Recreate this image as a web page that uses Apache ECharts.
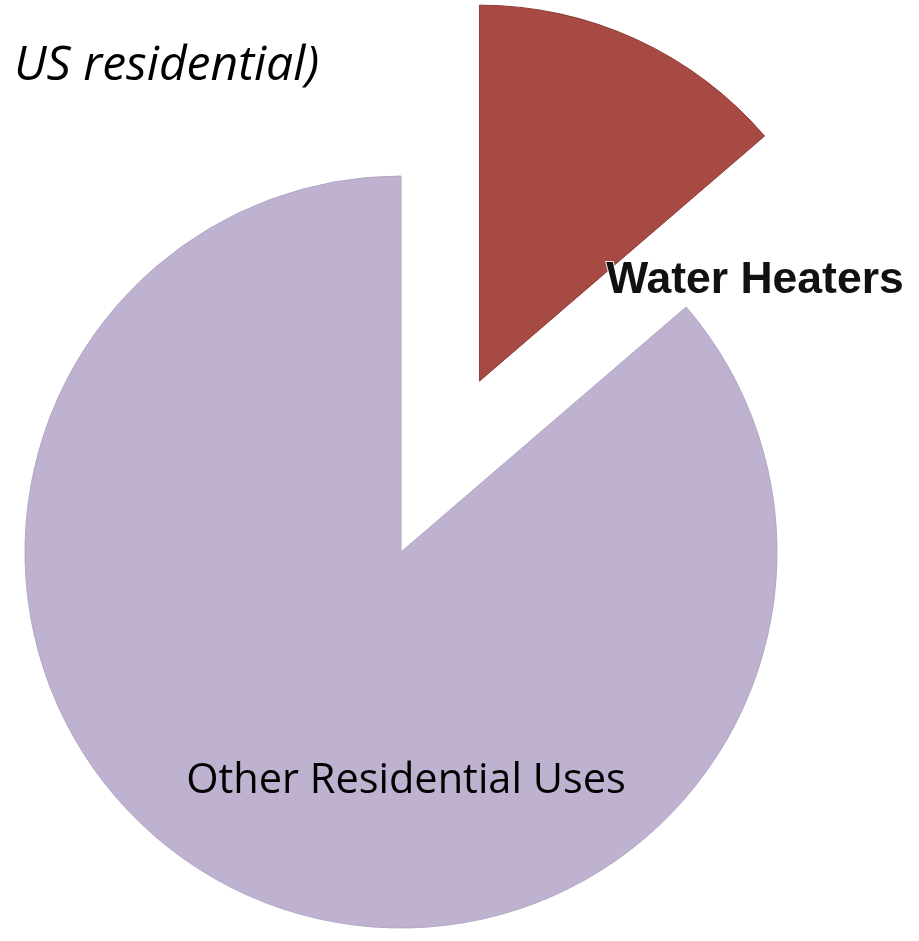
<!DOCTYPE html>
<html>
<head>
<meta charset="utf-8">
<script src="https://cdn.jsdelivr.net/npm/echarts@6/dist/echarts.min.js"></script>
<style>
  html, body { margin: 0; padding: 0; background: #fff; }
  #chart { width: 919px; height: 941px; }
</style>
</head>
<body>
<div id="chart"></div>
<script>
// slice names and their share of US residential use (%)
const categories = ['Water Heaters', 'Other Residential Uses'];
const shares = [13.7, 86.3];
const sliceColors = ['#A84A44', '#BEB2D0'];
const titleText = 'US residential)';

const chart = echarts.init(document.getElementById('chart'));

chart.setOption({
    backgroundColor: '#fff',
    animation: false,
    title: {
        text: titleText,
        left: 9,
        top: 37,
        textStyle: {
            fontFamily: 'Open Sans',
            fontStyle: 'italic',
            fontWeight: 'normal',
            fontSize: 48,
            color: '#000'
        }
    },
    series: [
        {
            type: 'pie',
            center: [401, 552],
            radius: 376,
            startAngle: 90,
            clockwise: true,
            selectedMode: 'single',
            selectedOffset: 188,
            emphasis: { disabled: true },
            labelLine: { show: false },
            label: {
                show: true,
                position: 'inside',
                // the selected slice ignores labelLayout x/y, so push its text down with blank lines
                formatter: function (p) {
                    return p.dataIndex === 0 ? '\n\n\n' + p.name : p.name;
                }
            },
            labelLayout: function (params) {
                if (params.dataIndex === 0) {
                    return { align: 'left', verticalAlign: 'middle' };
                }
                return { x: 406, y: 781, align: 'center', verticalAlign: 'middle' };
            },
            data: categories.map(function (name, i) {
                return {
                    name: name,
                    value: shares[i],
                    selected: i === 0,
                    itemStyle: {
                        color: sliceColors[i],
                        borderColor: i === 0 ? '#8E3B36' : '#B3A8C4',
                        borderWidth: 1
                    },
                    label: i === 0 ? {
                        fontFamily: 'Liberation Sans',
                        fontWeight: 'bold',
                        fontSize: 44.5,
                        lineHeight: 49,
                        color: '#111',
                        padding: [0, 0, 0, 47],
                        textBorderColor: 'rgba(255,255,255,0.85)',
                        textBorderWidth: 2
                    } : {
                        fontFamily: 'Open Sans',
                        fontSize: 41.5,
                        color: '#000'
                    }
                };
            })
        }
    ]
});
</script>
</body>
</html>
